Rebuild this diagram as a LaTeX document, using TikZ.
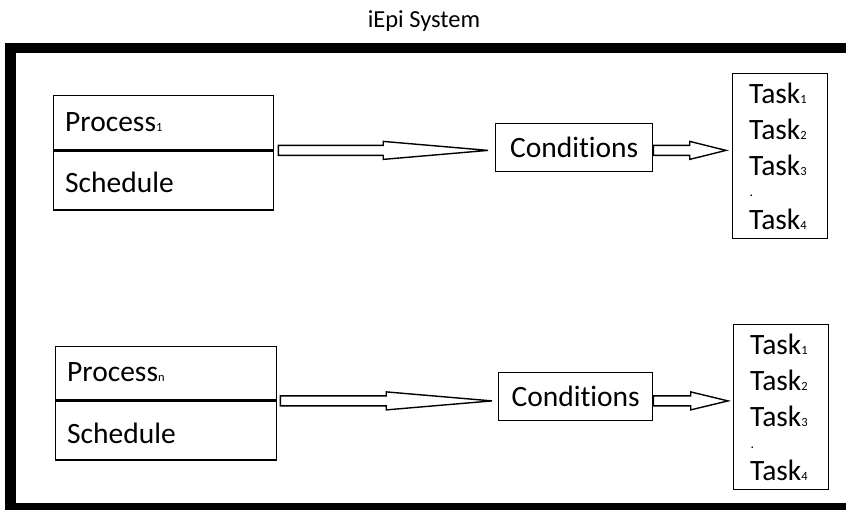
\documentclass[tikz,border=0pt]{standalone}
\usepackage{fontspec}
\setmainfont{Carlito}[Ligatures=NoCommon]
\usetikzlibrary{calc}

% tiny lowered index used in the labels
\newcommand\idx[1]{{\fontsize{12.5}{12.5}\selectfont #1}}

% hollow block arrow between two points: shaft, then a long tapering head
\newcommand\hollowarrow[2]{%
  \draw[arrowline] let \p1=#1, \p2=#2, \n1={(\x1+\x2)/2} in
    (\x1,\y1+5pt) -- (\n1,\y1+5pt) -- (\n1,\y1+9pt) -- (\x2,\y1)
    -- (\n1,\y1-9pt) -- (\n1,\y1-5pt) -- (\x1,\y1-5pt) -- cycle;}

\tikzset{
  box/.style={draw, line width=1.4pt, inner sep=0pt, anchor=north west},
  condbox/.style={box, minimum height=48, font=\fontsize{29.5}{34}\selectfont},
  lbl/.style={anchor=base west, inner sep=0pt, font=\fontsize{29.5}{34}\selectfont},
  dotlbl/.style={anchor=base west, inner sep=0pt, font=\fontsize{14}{14}\selectfont},
  arrowline/.style={draw, line width=1.4pt, line join=miter},
  frameline/.style={draw, line width=10.5pt},
}

\begin{document}
\begin{tikzpicture}[x=1pt, y=-1pt]
\useasboundingbox (0,0) rectangle (846,510);
\clip (0,0) rectangle (846,510);

% title and the heavy system frame (open beyond the right edge)
\node[anchor=base, inner sep=0pt, font=\fontsize{24.5}{28}\selectfont] (title) at (424,28) {iEpi System};
\draw[frameline] (900,48) -- (10.7,48) -- (10.7,508) -- (900,508);

% ---- first process ----
\node[box, minimum width=220, minimum height=54] (p1a) at (53,95) {};
\node[box, minimum width=220, minimum height=59] (p1b) at (p1a.south west) {};
\node[lbl] (p1t) at (65,131.5) {Process\idx{1}};
\node[lbl] (p1s) at (65,193) {Schedule};

\node[condbox, minimum width=157] (c1) at (495,123) {Conditions};

\node[box, minimum width=95, minimum height=165] (t1) at (732,73) {};
\node[lbl] (t1a) at (749,103.5) {Task\idx{1}};
\node[lbl] (t1b) at (749,140) {Task\idx{2}};
\node[lbl] (t1c) at (749,176) {Task\idx{3}};
\node[dotlbl] (t1d) at (749.5,197) {.};
\node[lbl] (t1e) at (749,229.3) {Task\idx{4}};

\hollowarrow{($(p1a.south east)+(4,0)$)}{($(c1.west)+(-7,0)$)}
\hollowarrow{(c1.east |- p1a.south)}{($(t1.west)+(-6,0)$)}

% ---- n-th process ----
\node[box, minimum width=221, minimum height=53.5] (p2a) at (55,346) {};
\node[box, minimum width=221, minimum height=58.5] (p2b) at (p2a.south west) {};
\node[lbl] (p2t) at (67,381.7) {Process\idx{n}};
\node[lbl] (p2s) at (67,443) {Schedule};

\node[condbox, minimum width=154] (c2) at (498,372) {Conditions};

\node[box, minimum width=95, minimum height=165] (t2) at (733,324) {};
\node[lbl] (t2a) at (750,355) {Task\idx{1}};
\node[lbl] (t2b) at (750,391) {Task\idx{2}};
\node[lbl] (t2c) at (750,427) {Task\idx{3}};
\node[dotlbl] (t2d) at (750.5,448) {.};
\node[lbl] (t2e) at (750,480) {Task\idx{4}};

\hollowarrow{($(p2a.south east)+(3,0)$)}{($(c2.west)+(-6,0)$)}
\hollowarrow{(c2.east |- p2a.south)}{($(t2.west)+(-5,0)$)}
\end{tikzpicture}
\end{document}
